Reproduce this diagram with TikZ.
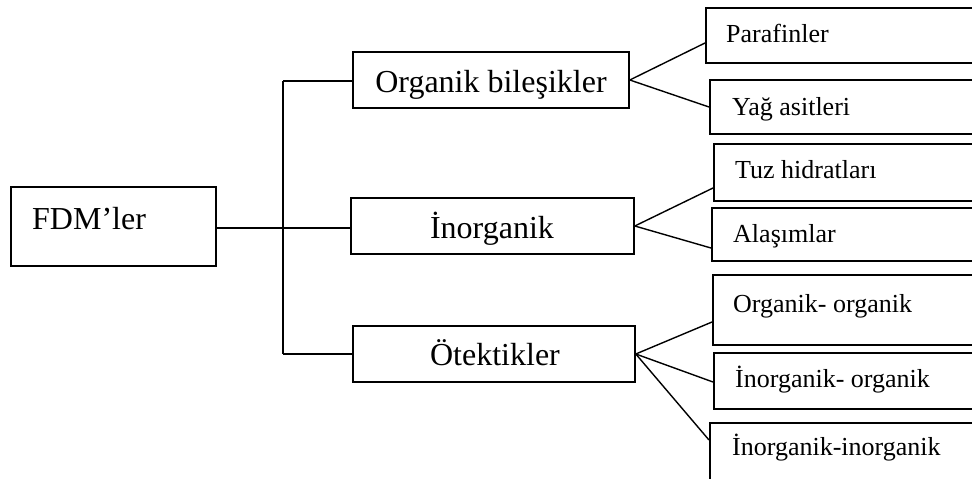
\documentclass[tikz,border=0pt]{standalone}
\usepackage{fontspec}
\setmainfont{Liberation Serif}
\usetikzlibrary{calc}
\begin{document}
\begin{tikzpicture}[x=1pt,y=-1pt,
  boxline/.style={draw=black,line width=1.6pt,inner sep=0pt},
  mbox/.style={boxline},
  rbox/.style={boxline,anchor=north west},
  bigtxt/.style={font=\fontsize{32}{36}\selectfont,inner sep=0pt},
  smalltxt/.style={font=\fontsize{26}{29}\selectfont,inner sep=0pt,anchor=base west},
  conn/.style={draw=black,line width=1.4pt},
  thickconn/.style={draw=black,line width=2.4pt}]
\useasboundingbox (0,0) rectangle (972,479);
\clip (0,0) rectangle (972,479);
\fill[white] (0,0) rectangle (972,479);
% root
\node[mbox,minimum width=205pt,minimum height=79pt] (fdm) at (113.5,226.5) {};
\node[bigtxt,anchor=base west] (fdmt) at (32,229) {FDM’ler};
% middle boxes
\node[mbox,minimum width=276pt,minimum height=56pt] (ob) at (491,80) {};
\node[bigtxt,anchor=base] (obt) at (491,92) {Organik bileşikler};
\node[mbox,minimum width=283pt,minimum height=56pt] (in) at (492.5,226) {};
\node[bigtxt,anchor=base] (int) at (492,238) {İnorganik};
\node[mbox,minimum width=282pt,minimum height=56pt] (ot) at (494,354) {};
\node[bigtxt,anchor=base] (ott) at (495,365) {Ötektikler};
% right boxes
\node[rbox,minimum width=285pt,minimum height=55pt] (p) at (705,7) {};
\node[smalltxt] (pt) at (726,42) {Parafinler};
\node[rbox,minimum width=281pt,minimum height=54pt] (y) at (709,79) {};
\node[smalltxt] (yt) at (732,115) {Yağ asitleri};
\node[rbox,minimum width=277pt,minimum height=57pt] (t) at (713,143) {};
\node[smalltxt] (tt) at (735,178) {Tuz hidratları};
\node[rbox,minimum width=279pt,minimum height=53pt] (a) at (711,207) {};
\node[smalltxt] (at) at (733,242) {Alaşımlar};
\node[rbox,minimum width=278pt,minimum height=70pt] (oo) at (712,274) {};
\node[smalltxt] (oot) at (733,312) {Organik- organik};
\node[rbox,minimum width=277pt,minimum height=56pt] (io) at (713,352) {};
\node[smalltxt] (iot) at (735,387) {İnorganik- organik};
\node[rbox,minimum width=281pt,minimum height=70pt] (ii) at (709,422) {};
\node[smalltxt] (iit) at (732,455) {İnorganik-inorganik};
% trunk
\coordinate (jt) at (283,81);
\coordinate (jm) at (283,228);
\coordinate (jb) at (283,354);
\draw[thickconn] (fdm.east |- jm) -- (jm);
\draw[conn] (jt) -- (jb);
\draw[conn] (jt) -- (jt -| ob.west);
\draw[conn] (jm) -- (jm -| in.west);
\draw[conn] (jb) -- (jb -| ot.west);
% branches
\draw[conn] (ob.east) -- ($(p.north west)+(0,36)$);
\draw[conn] (ob.east) -- ($(y.north west)+(0,28)$);
\draw[conn] (in.east) -- ($(t.north west)+(0,45)$);
\draw[conn] (in.east) -- ($(a.north west)+(0,41)$);
\draw[conn] (ot.east) -- ($(oo.north west)+(0,48)$);
\draw[conn] (ot.east) -- ($(io.north west)+(0,30)$);
\draw[conn] (ot.east) -- ($(ii.north west)+(0,18)$);
\end{tikzpicture}
\end{document}
